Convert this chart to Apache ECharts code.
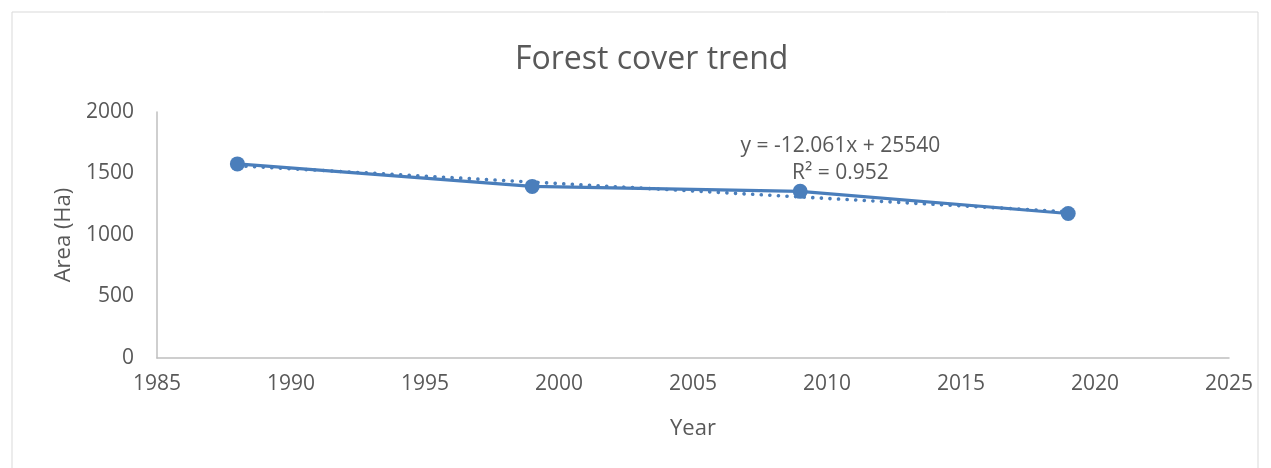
<!DOCTYPE html>
<html>
<head>
<meta charset="utf-8">
<script src="https://cdn.jsdelivr.net/npm/echarts@6/dist/echarts.min.js"></script>
<style>
  html, body { margin: 0; padding: 0; background: #fff; }
  #chart { width: 1271px; height: 468px; }
</style>
</head>
<body>
<div id="chart"></div>
<script>
// Forest cover observations (year, area in hectares)
const years = [1988, 1999, 2009, 2019];
const areas = [1578, 1395, 1355, 1175];

// Linear trendline as reported: y = slope * x + intercept
const trendSlope = -12.061;
const trendIntercept = 25540;
const trendR2 = 0.952;

const xTicks = [1985, 1990, 1995, 2000, 2005, 2010, 2015, 2020, 2025];
const yTicks = [0, 500, 1000, 1500, 2000];

const blue = '#4a7ebb';
const textColor = '#595959';
const font = 'Open Sans';

const seriesData = years.map((y, i) => [y, areas[i]]);
const trendStart = years[0];
const trendEnd = years[years.length - 1];
const trendData = [
  [trendStart, trendSlope * trendStart + trendIntercept],
  [trendEnd, trendSlope * trendEnd + trendIntercept]
];

const chart = echarts.init(document.getElementById('chart'), null, { renderer: 'canvas' });

const option = {
  animation: false,
  backgroundColor: '#fff',
  title: {
    text: 'Forest cover trend',
    left: 510,
    top: 39,
    textStyle: { fontFamily: font, fontSize: 32, fontWeight: 'normal', color: textColor }
  },
  grid: { left: 157, right: 42, top: 112, bottom: 110 },
  xAxis: {
    type: 'value',
    min: xTicks[0],
    max: xTicks[xTicks.length - 1],
    interval: 5,
    name: 'Year',
    nameLocation: 'middle',
    nameGap: 60,
    nameTextStyle: { fontFamily: font, fontSize: 22, color: textColor },
    axisLine: { show: true, lineStyle: { color: '#bfbfbf', width: 1.5 } },
    axisTick: { show: false },
    splitLine: { show: false },
    axisLabel: { fontFamily: font, fontSize: 21, color: textColor, margin: 16, formatter: v => String(v) }
  },
  yAxis: {
    type: 'value',
    min: yTicks[0],
    max: yTicks[yTicks.length - 1],
    interval: 500,
    name: 'Area (Ha)',
    nameLocation: 'middle',
    nameGap: 82,
    nameRotate: 90,
    nameTextStyle: { fontFamily: font, fontSize: 22, color: textColor },
    axisLine: { show: true, lineStyle: { color: '#bfbfbf', width: 1.5 } },
    axisTick: { show: false },
    splitLine: { show: false },
    axisLabel: { fontFamily: font, fontSize: 21, color: textColor, margin: 23, formatter: v => String(v) }
  },
  series: [
    {
      name: 'Trend',
      type: 'line',
      data: trendData,
      symbol: 'none',
      silent: true,
      z: 1,
      lineStyle: { color: blue, width: 3.6, type: [0.1, 8.5], cap: 'round' }
    },
    {
      name: 'Forest cover',
      type: 'line',
      data: seriesData,
      symbol: 'circle',
      symbolSize: 15,
      z: 2,
      itemStyle: { color: blue },
      lineStyle: { color: blue, width: 3.2 }
    }
  ]
};

chart.setOption(option);

// Trendline equation placed in data space above the 2009 observation
const labelPos = chart.convertToPixel({ gridIndex: 0 }, [2010.5, 1610]);
chart.setOption({
  graphic: [
    {
      type: 'rect',
      shape: { x: 12, y: 12, width: 1246, height: 520 },
      style: { fill: 'none', stroke: '#d9d9d9', lineWidth: 1 },
      silent: true,
      z: -1
    },
    {
      type: 'text',
      x: labelPos[0],
      y: labelPos[1],
      style: {
        text: 'y = -12.061x + 25540\nR² = 0.952',
        fontFamily: font,
        fontSize: 21,
        fill: textColor,
        align: 'center',
        verticalAlign: 'middle',
        lineHeight: 27
      }
    }
  ]
});
</script>
</body>
</html>
